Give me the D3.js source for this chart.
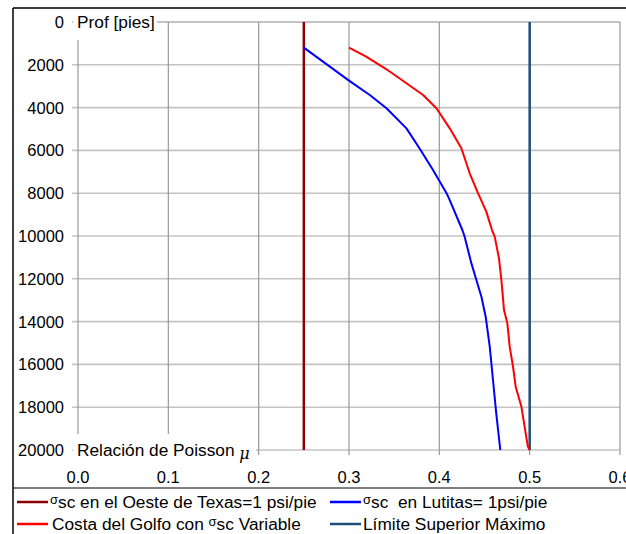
<!DOCTYPE html>
<html><head><meta charset="utf-8">
<script src="https://cdn.jsdelivr.net/npm/d3@7"></script>
<style>body{margin:0;background:#fff}svg{display:block}text{font-family:"Liberation Sans",Arial,sans-serif}</style>
</head><body>
<svg id="c" width="626" height="534"></svg>
<script>
const xTicks = [0.0, 0.1, 0.2, 0.3, 0.4, 0.5, 0.6];
const yTicks = [0, 2000, 4000, 6000, 8000, 10000, 12000, 14000, 16000, 18000, 20000];
const westTexas = [[0.25, 0], [0.25, 20000]];
const upperLimit = [[0.5, 0], [0.5, 20000]];
const blueMu =    [0.25, 0.300, 0.323, 0.3415, 0.3636, 0.378, 0.393, 0.408, 0.4115, 0.4255, 0.428, 0.4355, 0.441, 0.4466, 0.4513, 0.4558, 0.4594, 0.463, 0.4675];
const blueDepth = [1200, 2740, 3410, 4030, 4970, 5900, 6920, 8000, 8320, 9720, 10030, 11280, 12060, 12840, 13770, 15170, 16730, 18290, 20000];
const redMu =    [0.30, 0.319, 0.3415, 0.3636, 0.382, 0.3968, 0.4115, 0.4244, 0.4336, 0.4428, 0.452, 0.4583, 0.4613, 0.466, 0.4687, 0.4716, 0.4753, 0.4779, 0.4816, 0.4845, 0.4908, 0.498, 0.5];
const redDepth = [1200, 1620, 2210, 2860, 3410, 4030, 4970, 5900, 7070, 8000, 8860, 9720, 10030, 11040, 12060, 13460, 14080, 15170, 16110, 17040, 17970, 19840, 20000];
const series = [
  {name:"west", color:"#8b0000", width:2.5, data:westTexas},
  {name:"upper", color:"#1f4e79", width:2.5, data:upperLimit},
  {name:"blue", color:"#0000ff", width:2, data:blueMu.map((m,i)=>[m, blueDepth[i]])},
  {name:"red", color:"#ff0000", width:2, data:redMu.map((m,i)=>[m, redDepth[i]])}
];

const svg = d3.select("#c");
const x = d3.scaleLinear().domain([0, 0.6]).range([78, 620]);
const y = d3.scaleLinear().domain([0, 20000]).range([22, 450]);

// frame
svg.append("line").attr("x1",13).attr("x2",626).attr("y1",8).attr("y2",8).attr("stroke","#000").attr("stroke-width",1.5);
svg.append("line").attr("x1",13).attr("x2",13).attr("y1",8).attr("y2",534).attr("stroke","#000").attr("stroke-width",1.5);
svg.append("line").attr("x1",13).attr("x2",626).attr("y1",488).attr("y2",488).attr("stroke","#000").attr("stroke-width",1.2);

// horizontal grid
svg.append("g").selectAll("line").data(yTicks).join("line")
  .attr("x1",72).attr("x2",620).attr("y1",d=>y(d)).attr("y2",d=>y(d))
  .attr("stroke",d=>d===0?"#888":"#c4c4c4").attr("stroke-width",d=>d===0?1.2:1.6);
// vertical grid
svg.append("g").selectAll("line").data(xTicks).join("line")
  .attr("x1",d=>x(d)).attr("x2",d=>x(d)).attr("y1",y(0)).attr("y2",d=>d===0?y(20000):y(20000)+5)
  .attr("stroke","#999").attr("stroke-width",1.2);

// y tick labels
svg.append("g").selectAll("text").data(yTicks).join("text")
  .attr("x",64).attr("y",d=>y(d)+6).attr("text-anchor","end")
  .attr("font-size",16.5).attr("fill","#000").text(d=>d);
// x tick labels
svg.append("g").selectAll("text").data(xTicks).join("text")
  .attr("x",d=>x(d)).attr("y",483).attr("text-anchor","middle")
  .attr("font-size",16.5).attr("fill","#000").text(d=>d.toFixed(1));

// axis title boxes
svg.append("rect").attr("x",73).attr("y",12).attr("width",84).attr("height",28).attr("fill","#fff");
svg.append("text").attr("x",77).attr("y",y(0)+6).attr("font-size",17.3).text("Prof [pies]");
svg.append("rect").attr("x",73).attr("y",434).attr("width",183).attr("height",33).attr("fill","#fff");
const xt = svg.append("text").attr("x",77).attr("y",y(20000)+6).attr("font-size",17.3);
xt.append("tspan").text("Relación de Poisson ");
xt.append("tspan").attr("font-style","italic").attr("font-family","DejaVu Serif").attr("font-size",16).attr("dy",3).text("μ");

// series
const line = d3.line().x(d=>x(d[0])).y(d=>y(d[1]));
svg.append("g").selectAll("path").data(series).join("path")
  .attr("d",d=>line(d.data)).attr("fill","none").attr("stroke",d=>d.color)
  .attr("stroke-width",d=>d.width).attr("stroke-linejoin","round");

// legend
const legend = [
  {color:"#8b0000", x:17, y:502, tx:50, parts:[["σ",true],["sc en el Oeste de Texas=1 psi/pie",false]]},
  {color:"#0000ff", x:330, y:502, tx:363, parts:[["σ",true],["sc  en Lutitas= 1psi/pie",false]]},
  {color:"#ff0000", x:17, y:524, tx:52, parts:[["Costa del Golfo con ",false],["σ",true],["sc Variable",false]]},
  {color:"#1f4e79", x:330, y:524, tx:363, parts:[["Límite Superior Máximo",false]]}
];
legend.forEach(l=>{
  svg.append("line").attr("x1",l.x).attr("x2",l.x+31).attr("y1",l.y).attr("y2",l.y).attr("stroke",l.color).attr("stroke-width",2.5);
  const t = svg.append("text").attr("x",l.tx).attr("y",l.y+6).attr("font-size",17.3).style("white-space","pre");
  let raised = false;
  l.parts.forEach(p=>{
    const s = t.append("tspan").text(p[0]);
    if(p[1]) { s.attr("font-size",13).attr("dy",-4); raised = true; }
    else if(raised) { s.attr("dy",4); raised = false; }
  });
});
</script>
</body></html>
